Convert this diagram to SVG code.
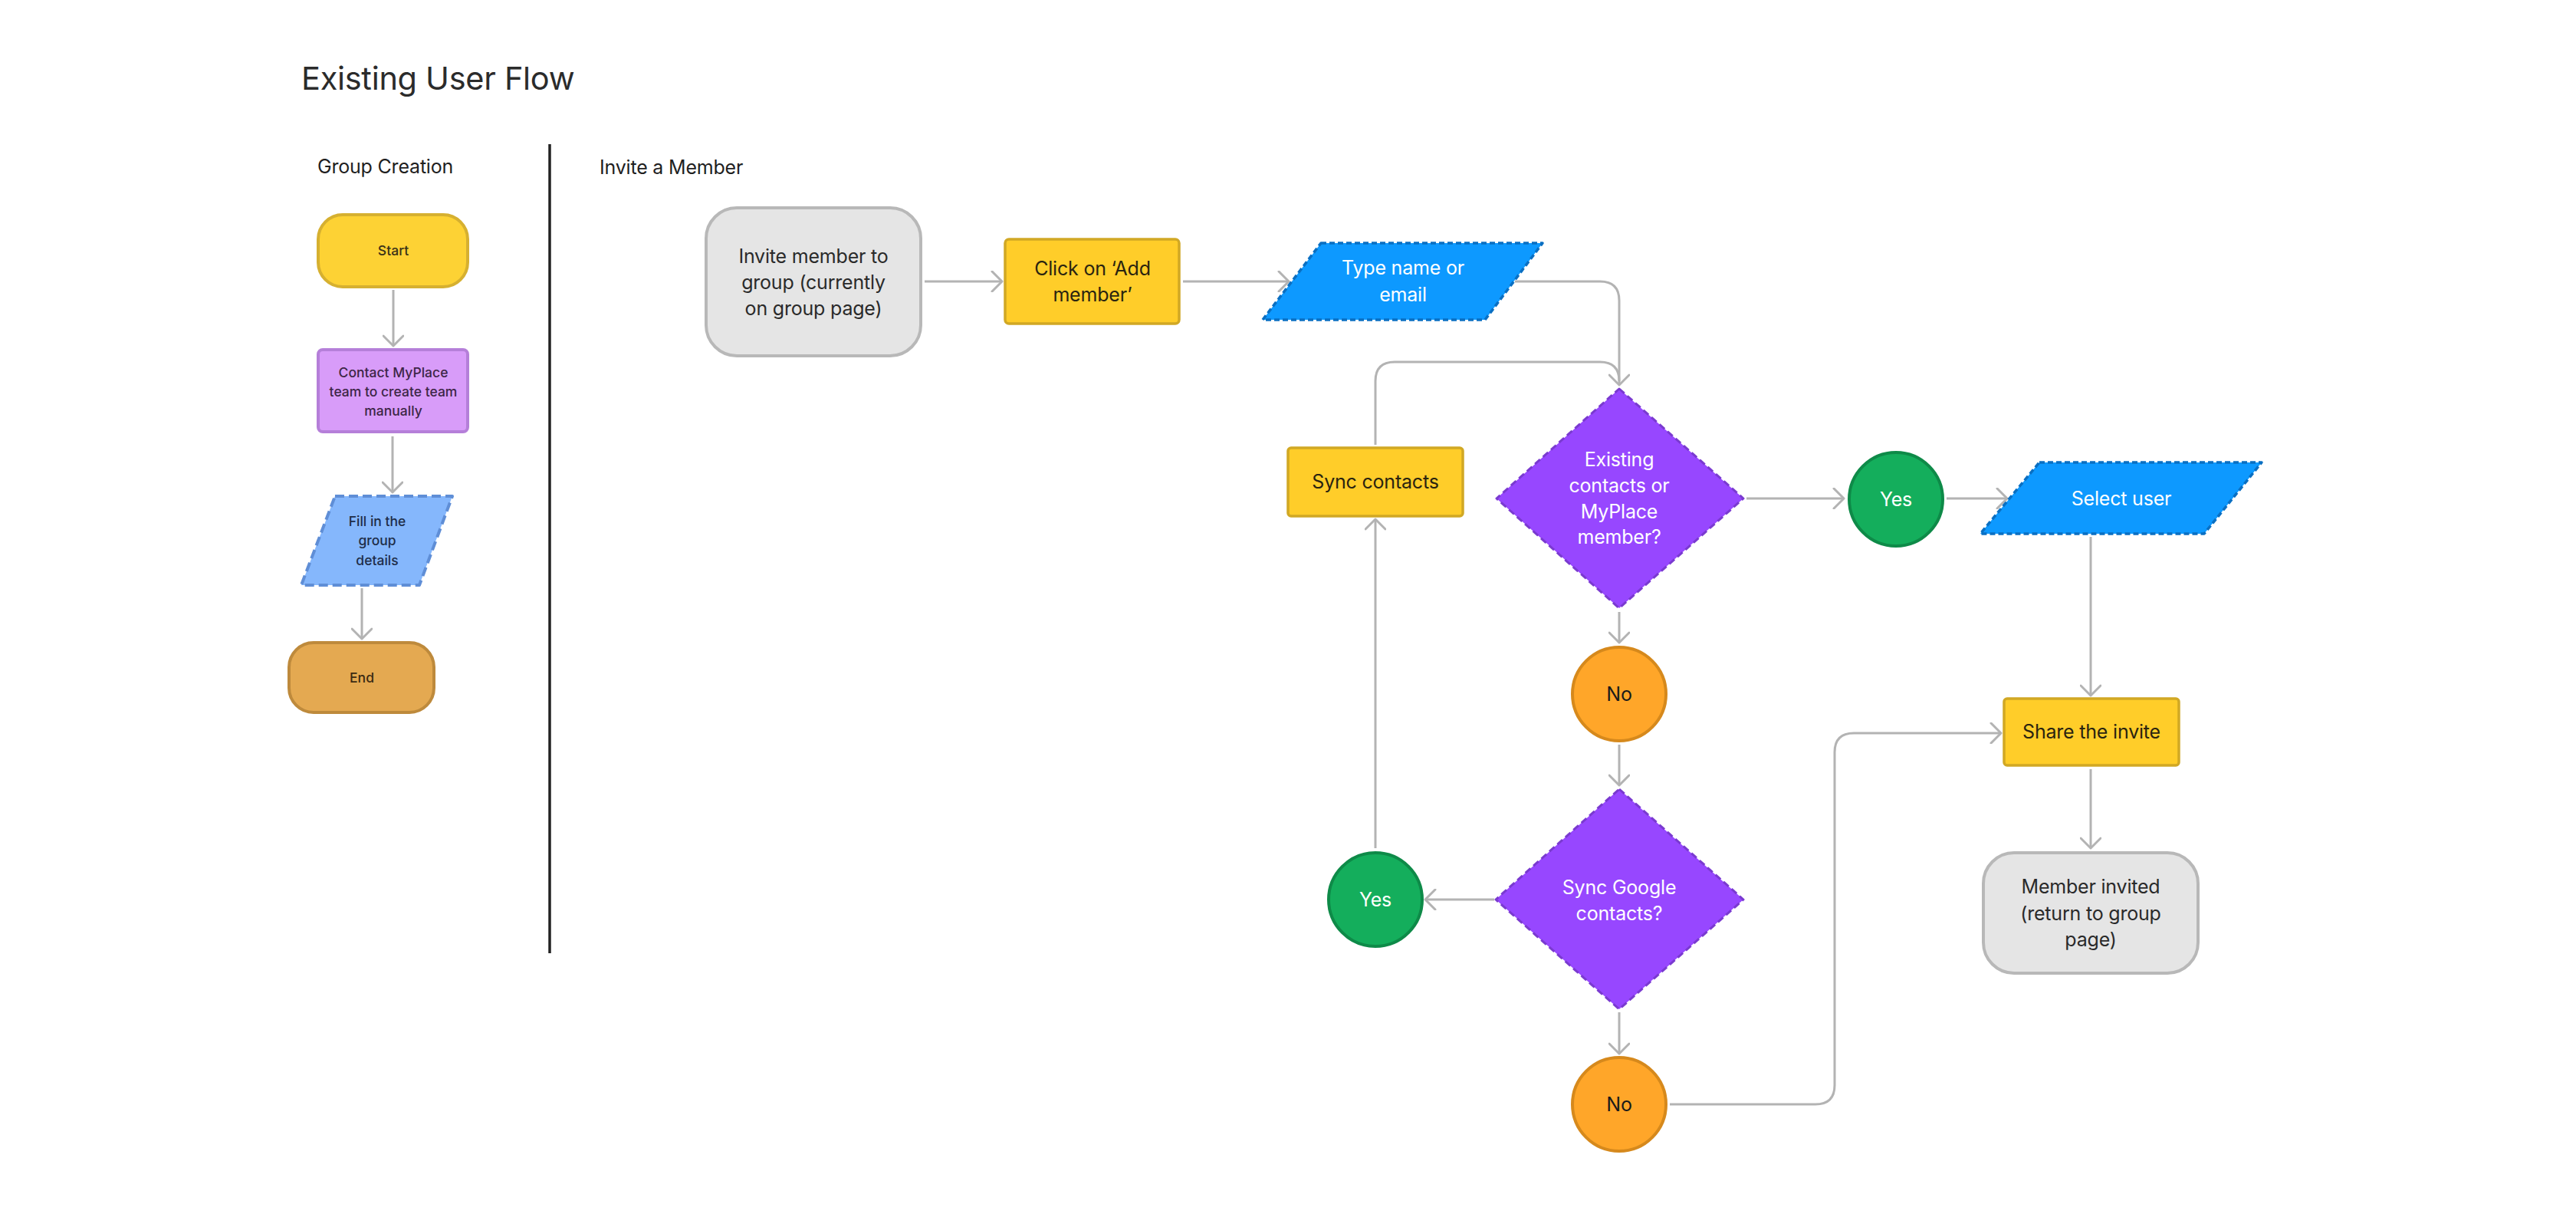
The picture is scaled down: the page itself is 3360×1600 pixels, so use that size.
<svg xmlns="http://www.w3.org/2000/svg" width="3360" height="1600" viewBox="0 0 3360 1600">
<defs>
<style>
text{font-family:Inter,"Noto Sans","Liberation Sans",sans-serif;}
.title{font-size:41.5px;fill:#2b2b2b;letter-spacing:-0.3px;}
.section{font-size:25px;fill:#1f1f1f;letter-spacing:-0.2px;}
.small{font-size:17.5px;font-weight:500;text-anchor:middle;}
.lbl{font-size:25px;text-anchor:middle;letter-spacing:-0.2px;}
.conn{fill:none;stroke:#B3B3B3;stroke-width:3;stroke-linejoin:round;}
.arr{marker-end:url(#ah);}
.yellow{fill:#FFCD29;stroke:#D1A824;stroke-width:3.5;}
.gray{fill:#E5E5E5;stroke:#B8B8B8;stroke-width:4;}
.blue{fill:#0D99FF;stroke:#0A6FC2;stroke-width:3.5;stroke-dasharray:7 4;stroke-linejoin:round;}
.purple{fill:#9747FF;stroke:#7A3AD0;stroke-width:3;stroke-dasharray:9 5;stroke-linejoin:round;}
.green{fill:#14AE5C;stroke:#0E8A48;stroke-width:4;}
.orange{fill:#FFA629;stroke:#D6891C;stroke-width:4;}
.dark{fill:#2a2410;}
.white{fill:#ffffff;}
</style>
<marker id="ah" viewBox="0 0 18 28" refX="15" refY="14" markerWidth="18" markerHeight="28" markerUnits="userSpaceOnUse" orient="auto">
<path d="M2,1 L15,14 L2,27" fill="none" stroke="#B3B3B3" stroke-width="3" stroke-linecap="round" stroke-linejoin="round"/>
</marker>
</defs>
<rect width="3360" height="1600" fill="#ffffff"/>

<text class="title" x="393" y="117">Existing User Flow</text>
<text class="section" x="414" y="226">Group Creation</text>
<text class="section" x="782" y="227">Invite a Member</text>
<line x1="717" y1="188" x2="717" y2="1243" stroke="#222222" stroke-width="3.5"/>

<g id="connectors">
<path class="conn arr" d="M513,378 V451"/>
<path class="conn arr" d="M512,569 V642"/>
<path class="conn arr" d="M472,767 V833"/>
<path class="conn arr" d="M1206,367 H1307"/>
<path class="conn arr" d="M1543,367 H1681"/>
<path class="conn arr" d="M1976,367 H2087 Q2112,367 2112,392 V502"/>
<path class="conn" d="M1794,580 V497 Q1794,472 1819,472 H2087 Q2112,472 2112,497"/>
<path class="conn arr" d="M2278,650 H2405"/>
<path class="conn arr" d="M2539,650 H2618"/>
<path class="conn arr" d="M2727,700 V907"/>
<path class="conn arr" d="M2727,1003 V1106"/>
<path class="conn arr" d="M2112,798 V838"/>
<path class="conn arr" d="M2112,971 V1024"/>
<path class="conn arr" d="M1949,1173 H1859"/>
<path class="conn arr" d="M1794,1106 V677"/>
<path class="conn arr" d="M2112,1320 V1374"/>
<path class="conn arr" d="M2178,1440 H2368 Q2393,1440 2393,1415 V981 Q2393,956 2418,956 H2610"/>
</g>

<g id="start">
<rect x="415" y="280" width="195" height="94" rx="32" fill="#FDD234" stroke="#D6B030" stroke-width="4"/>
<text class="small" x="513" y="333" fill="#3b3218">Start</text>
</g>
<g id="contact-team">
<rect x="415" y="456" width="195" height="107" rx="6" fill="#D89CF9" stroke="#B57FD9" stroke-width="4"/>
<text class="small" x="513" y="492" fill="#3d2647">Contact MyPlace</text>
<text class="small" x="513" y="517" fill="#3d2647">team to create team</text>
<text class="small" x="513" y="542" fill="#3d2647">manually</text>
</g>
<g id="fill-details">
<path d="M437,647 H590 L547,763 H393 Z" fill="#85B7FC" stroke="#5F8ED6" stroke-width="4" stroke-dasharray="12 6" stroke-linejoin="round"/>
<text class="small" x="492" y="686" fill="#1e2d48">Fill in the</text>
<text class="small" x="492" y="711" fill="#1e2d48">group</text>
<text class="small" x="492" y="737" fill="#1e2d48">details</text>
</g>
<g id="end">
<rect x="377" y="838" width="189" height="91" rx="32" fill="#E4A951" stroke="#BE8A3C" stroke-width="4"/>
<text class="small" x="472" y="890" fill="#3b2a12">End</text>
</g>

<g id="invite-member">
<rect x="921" y="271" width="280" height="193" rx="40" class="gray"/>
<text class="lbl" x="1061" y="343" fill="#2a2a2a">Invite member to</text>
<text class="lbl" x="1061" y="377" fill="#2a2a2a">group (currently</text>
<text class="lbl" x="1061" y="411" fill="#2a2a2a">on group page)</text>
</g>
<g id="click-add">
<rect x="1311" y="312" width="227" height="110" rx="5" class="yellow"/>
<text class="lbl dark" x="1425" y="359">Click on ‘Add</text>
<text class="lbl dark" x="1425" y="393">member’</text>
</g>
<g id="type-name">
<path d="M1723,317 H2012 L1937,417 H1647 Z" class="blue"/>
<text class="lbl white" x="1830" y="358">Type name or</text>
<text class="lbl white" x="1830" y="393">email</text>
</g>
<g id="sync-contacts">
<rect x="1680" y="584" width="228" height="89" rx="4" class="yellow"/>
<text class="lbl dark" x="1794" y="637">Sync contacts</text>
</g>
<g id="decision-existing">
<path d="M2112,507 L2274,650 L2112,793 L1952,650 Z" class="purple"/>
<text class="lbl white" x="2112" y="608">Existing</text>
<text class="lbl white" x="2112" y="642">contacts or</text>
<text class="lbl white" x="2112" y="676">MyPlace</text>
<text class="lbl white" x="2112" y="709">member?</text>
</g>
<g id="yes-1">
<circle cx="2473" cy="651" r="61" class="green"/>
<text class="lbl white" x="2473" y="660">Yes</text>
</g>
<g id="select-user">
<path d="M2660,603 H2950 L2875,696 H2583 Z" class="blue"/>
<text class="lbl white" x="2767" y="659">Select user</text>
</g>
<g id="no-1">
<circle cx="2112" cy="905" r="61" class="orange"/>
<text class="lbl" x="2112" y="914" fill="#1a1a1a">No</text>
</g>
<g id="decision-google">
<path d="M2112,1029 L2274,1173 L2112,1316 L1951,1173 Z" class="purple"/>
<text class="lbl white" x="2112" y="1166">Sync Google</text>
<text class="lbl white" x="2112" y="1200">contacts?</text>
</g>
<g id="yes-2">
<circle cx="1794" cy="1173" r="61" class="green"/>
<text class="lbl white" x="1794" y="1182">Yes</text>
</g>
<g id="no-2">
<circle cx="2112" cy="1440" r="61" class="orange"/>
<text class="lbl" x="2112" y="1449" fill="#1a1a1a">No</text>
</g>
<g id="share-invite">
<rect x="2614" y="911" width="228" height="87" rx="4" class="yellow"/>
<text class="lbl dark" x="2728" y="963">Share the invite</text>
</g>
<g id="member-invited">
<rect x="2587" y="1112" width="280" height="157" rx="40" class="gray"/>
<text class="lbl" x="2727" y="1165" fill="#2a2a2a">Member invited</text>
<text class="lbl" x="2727" y="1200" fill="#2a2a2a">(return to group</text>
<text class="lbl" x="2727" y="1234" fill="#2a2a2a">page)</text>
</g>
</svg>
